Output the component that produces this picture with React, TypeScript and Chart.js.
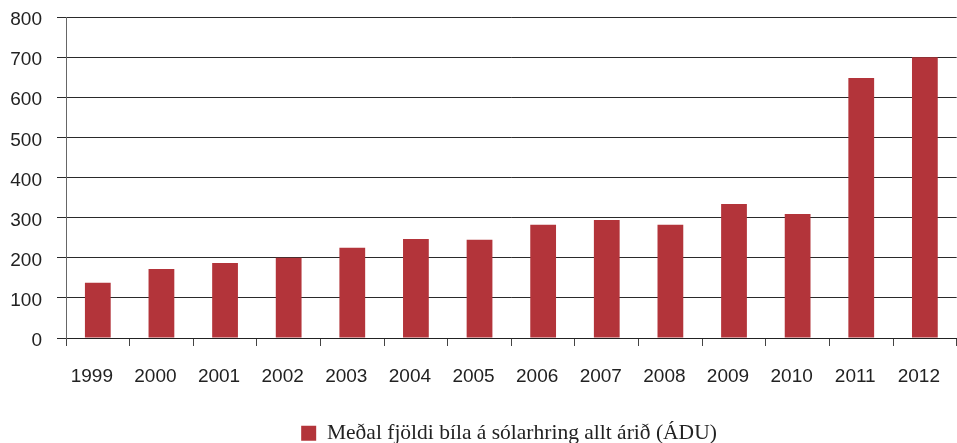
import React, { useEffect, useRef } from "react";
import { Chart, registerables } from "chart.js";

Chart.register(...registerables);

const years = ["1999", "2000", "2001", "2002", "2003", "2004", "2005", "2006", "2007", "2008", "2009", "2010", "2011", "2012"];
const values = [138, 172, 187, 200, 225, 247, 245, 282, 294, 282, 334, 309, 648, 700];
const seriesLabel = "Meðal fjöldi bíla á sólarhring allt árið (ÁDU)";
const yMin = 0;
const yMax = 800;
const yStep = 100;

const tickFont = { family: "'Liberation Sans', Arial, sans-serif", size: 19 };
const legendFont = { family: "'Liberation Serif', 'Times New Roman', serif", size: 21.5 };

const legendShift = {
  id: "legendShift",
  afterLayout(chart: any) {
    const l = chart.legend;
    if (!l) return;
    const dx = 509 - (l.left + l.right) / 2;
    l.left += dx;
    l.right += dx;
  },
};

export default function App() {
  const ref = useRef<HTMLCanvasElement>(null);
  useEffect(() => {
    const chart = new Chart(ref.current as HTMLCanvasElement, {
      type: "bar",
      data: {
        labels: years,
        datasets: [
          {
            label: seriesLabel,
            data: values,
            backgroundColor: "#B3343A",
            borderWidth: 0,
            barPercentage: 0.405,
            categoryPercentage: 1,
          },
        ],
      },
      options: {
        animation: false,
        responsive: false,
        maintainAspectRatio: false,
        layout: { padding: { top: 17, left: 0, right: 0, bottom: 0 } },
        plugins: {
          legend: {
            position: "bottom",
            labels: {
              boxWidth: 15,
              boxHeight: 15,
              padding: 10,
              color: "#222",
              font: legendFont,
            },
          },
          tooltip: { enabled: false },
        },
        scales: {
          x: {
            grid: {
              display: true,
              drawOnChartArea: false,
              drawTicks: true,
              tickLength: 8,
              color: "#444",
              offset: true,
            },
            border: { display: true, color: "#222" },
            ticks: {
              color: "#222",
              font: tickFont,
              padding: 19,
              labelOffset: -6,
              maxRotation: 0,
              autoSkip: false,
            },
            afterFit: (s: any) => {
              s.height = 74.5;
            },
          },
          y: {
            min: yMin,
            max: yMax,
            ticks: {
              stepSize: yStep,
              color: "#222",
              font: tickFont,
              padding: 15,
              labelOffset: 3,
            },
            grid: { color: "#2a2a2a", tickLength: 9 },
            border: { display: true, color: "#666" },
            afterFit: (s: any) => {
              s.width = 66;
              s.paddingTop = 0;
              s.paddingBottom = 0;
            },
          },
        },
      },
      plugins: [legendShift],
    });
    return () => chart.destroy();
  }, []);
  return (
    <div
      style={{
        position: "absolute",
        left: 0,
        top: 0,
        width: 957,
        height: 443,
        overflow: "hidden",
        background: "#fff",
      }}
    >
      <canvas ref={ref} width={965} height={454} style={{ display: "block" }} />
    </div>
  );
}
